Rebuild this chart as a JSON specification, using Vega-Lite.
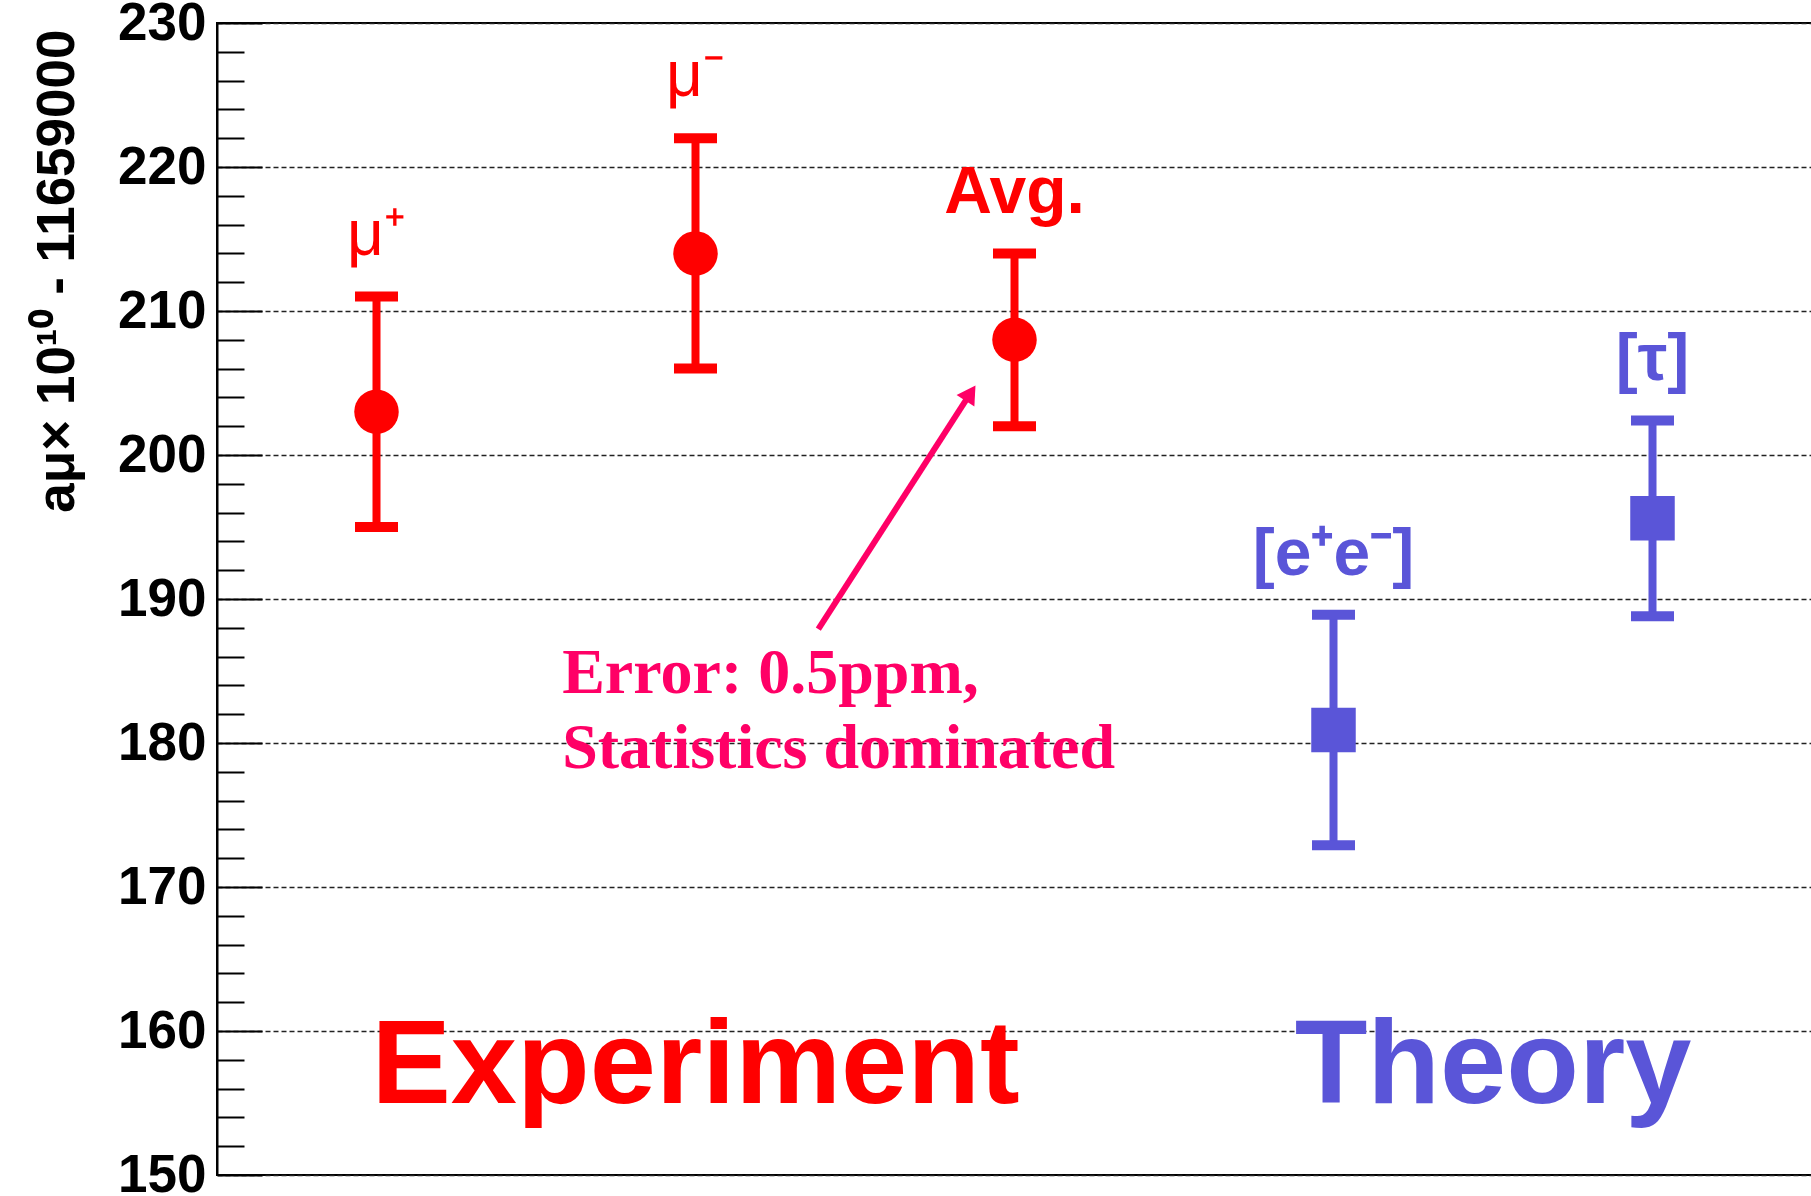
{
  "$schema": "https://vega.github.io/schema/vega-lite/v6.json",
  "autosize": "none",
  "width": 1595,
  "height": 1152,
  "padding": {"left": 217, "top": 23, "right": 0, "bottom": 21},
  "background": "#ffffff",
  "config": {
    "view": {"stroke": "#000000", "strokeWidth": 2},
    "font": "Liberation Sans"
  },
  "datasets": {
    "points": [
      {"label": "μ⁺", "group": "Experiment", "pos": 1, "value": 203, "lo": 195, "hi": 211},
      {"label": "μ⁻", "group": "Experiment", "pos": 2, "value": 214, "lo": 206, "hi": 222},
      {"label": "Avg.", "group": "Experiment", "pos": 3, "value": 208, "lo": 202, "hi": 214},
      {"label": "[e⁺e⁻]", "group": "Theory", "pos": 4, "value": 180.9, "lo": 172.9, "hi": 188.9},
      {"label": "[τ]", "group": "Theory", "pos": 5, "value": 195.6, "lo": 188.8, "hi": 202.4}
    ],
    "groups": [
      {"group": "Experiment", "pos": 2, "value": 155},
      {"group": "Theory", "pos": 4.5, "value": 155}
    ],
    "note": [
      {"text": "Error: 0.5ppm,\nStatistics dominated", "pos": 1.582, "value": 183.5}
    ],
    "arrow": [
      {"pos": 2.385, "value": 187.9, "step": 0},
      {"pos": 2.862, "value": 204.3, "step": 1}
    ]
  },
  "resolve": {"scale": {"y": "shared"}, "axis": {"y": "independent"}},
  "layer": [
    {
      "data": {"name": "points"},
      "mark": {"type": "rule", "strokeWidth": 8},
      "encoding": {
        "x": {"field": "pos", "type": "quantitative", "scale": {"domain": [0.5, 5.5], "nice": false, "zero": false}, "axis": null},
        "y": {
          "field": "lo", "type": "quantitative",
          "scale": {"domain": [150, 230], "nice": false, "zero": false},
          "axis": {
            "orient": "left",
            "values": [150, 160, 170, 180, 190, 200, 210, 220, 230],
            "format": "d",
            "tickSize": -45, "tickWidth": 2, "tickColor": "#000000",
            "domain": true, "domainColor": "#000000", "domainWidth": 2,
            "grid": true, "gridDash": [5, 3], "gridColor": "#222222", "gridWidth": 1.5,
            "labelFont": "Liberation Sans", "labelFontWeight": "bold", "labelFontSize": 53,
            "labelColor": "#000000", "labelPadding": 56, "labelBaseline": "middle",
            "labelFlush": false, "labelOverlap": false,
            "title": "aμ× 10¹⁰ - 11659000",
            "titleFont": "Liberation Sans", "titleFontWeight": "bold", "titleFontSize": 53,
            "titleColor": "#000000", "titleAngle": -90, "titleAlign": "right",
            "titleBaseline": "middle", "titleX": -160, "titleY": 6
          }
        },
        "y2": {"field": "hi"},
        "color": {"field": "group", "type": "nominal", "scale": {"domain": ["Experiment", "Theory"], "range": ["#ff0000", "#5a55d8"]}, "legend": null}
      }
    },
    {
      "data": {"name": "points"},
      "mark": {"type": "tick", "orient": "horizontal", "size": 43, "thickness": 10, "opacity": 1},
      "encoding": {
        "x": {"field": "pos", "type": "quantitative", "axis": null},
        "y": {
          "field": "hi", "type": "quantitative",
          "axis": {
            "orient": "left",
            "values": [152, 154, 156, 158, 162, 164, 166, 168, 172, 174, 176, 178, 182, 184, 186, 188, 192, 194, 196, 198, 202, 204, 206, 208, 212, 214, 216, 218, 222, 224, 226, 228],
            "tickSize": -27, "tickWidth": 2, "tickColor": "#000000",
            "labels": false, "domain": false, "grid": false, "title": null
          }
        },
        "color": {"field": "group", "type": "nominal", "legend": null}
      }
    },
    {
      "data": {"name": "points"},
      "mark": {"type": "tick", "orient": "horizontal", "size": 43, "thickness": 10, "opacity": 1},
      "encoding": {
        "x": {"field": "pos", "type": "quantitative", "axis": null},
        "y": {"field": "lo", "type": "quantitative", "axis": null},
        "color": {"field": "group", "type": "nominal", "legend": null}
      }
    },
    {
      "data": {"name": "points"},
      "mark": {"type": "point", "filled": true, "opacity": 1, "size": 1980},
      "encoding": {
        "x": {"field": "pos", "type": "quantitative", "axis": null},
        "y": {"field": "value", "type": "quantitative", "axis": null},
        "shape": {"field": "group", "type": "nominal", "scale": {"domain": ["Experiment", "Theory"], "range": ["circle", "square"]}, "legend": null},
        "color": {"field": "group", "type": "nominal", "legend": null}
      }
    },
    {
      "data": {"name": "points"},
      "transform": [{"filter": "indexof(datum.label, 'μ') >= 0"}],
      "mark": {"type": "text", "font": "Liberation Sans", "fontSize": 64, "fontWeight": "normal", "align": "center", "baseline": "alphabetic", "dy": -42},
      "encoding": {
        "x": {"field": "pos", "type": "quantitative", "axis": null},
        "y": {"field": "hi", "type": "quantitative", "axis": null},
        "text": {"field": "label"},
        "color": {"field": "group", "type": "nominal", "legend": null}
      }
    },
    {
      "data": {"name": "points"},
      "transform": [{"filter": "indexof(datum.label, 'μ') < 0"}],
      "mark": {"type": "text", "font": "Liberation Sans", "fontSize": 66, "fontWeight": "bold", "align": "center", "baseline": "alphabetic", "dy": -40},
      "encoding": {
        "x": {"field": "pos", "type": "quantitative", "axis": null},
        "y": {"field": "hi", "type": "quantitative", "axis": null},
        "text": {"field": "label"},
        "color": {"field": "group", "type": "nominal", "legend": null}
      }
    },
    {
      "data": {"name": "groups"},
      "mark": {"type": "text", "font": "Liberation Sans", "fontSize": 119, "fontWeight": "bold", "align": "center", "baseline": "alphabetic"},
      "encoding": {
        "x": {"field": "pos", "type": "quantitative", "axis": null},
        "y": {"field": "value", "type": "quantitative", "axis": null},
        "text": {"field": "group"},
        "color": {"field": "group", "type": "nominal", "legend": null}
      }
    },
    {
      "data": {"name": "note"},
      "mark": {"type": "text", "font": "Liberation Serif", "fontSize": 64, "fontWeight": "bold", "align": "left", "baseline": "alphabetic", "lineBreak": "\n", "lineHeight": 75, "color": "#ff0066"},
      "encoding": {
        "x": {"field": "pos", "type": "quantitative", "axis": null},
        "y": {"field": "value", "type": "quantitative", "axis": null},
        "text": {"field": "text"}
      }
    },
    {
      "data": {"name": "arrow"},
      "mark": {"type": "line", "color": "#ff0066", "strokeWidth": 6, "strokeCap": "butt"},
      "encoding": {
        "x": {"field": "pos", "type": "quantitative", "axis": null},
        "y": {"field": "value", "type": "quantitative", "axis": null},
        "order": {"field": "step", "type": "quantitative"}
      }
    },
    {
      "data": {"name": "arrow"},
      "transform": [{"filter": "datum.step == 1"}],
      "mark": {"type": "point", "shape": "triangle-up", "filled": true, "opacity": 1, "color": "#ff0066", "size": 450, "angle": 33},
      "encoding": {
        "x": {"field": "pos", "type": "quantitative", "axis": null},
        "y": {"field": "value", "type": "quantitative", "axis": null}
      }
    }
  ]
}
